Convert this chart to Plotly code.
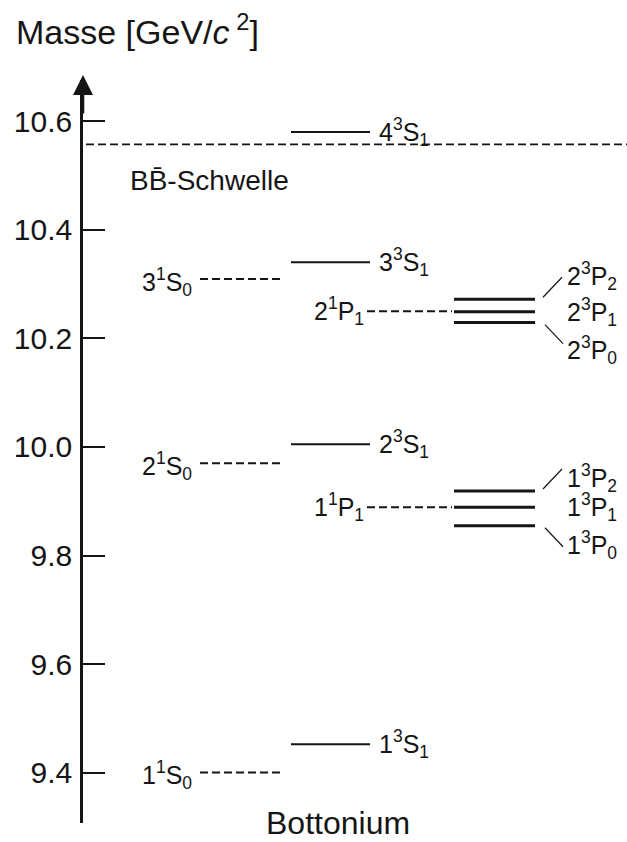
import plotly.graph_objects as go

# ---------------- data (masses in GeV/c^2) ----------------
tick_vals = [9.4, 9.6, 9.8, 10.0, 10.2, 10.4, 10.6]
tick_text = ["9.4", "9.6", "9.8", "10.0", "10.2", "10.4", "10.6"]

s_triplet_names = ["1<sup>3</sup>S<sub>1</sub>", "2<sup>3</sup>S<sub>1</sub>",
                   "3<sup>3</sup>S<sub>1</sub>", "4<sup>3</sup>S<sub>1</sub>"]
s_triplet_mass = [9.453, 10.005, 10.340, 10.580]

s_singlet_names = ["1<sup>1</sup>S<sub>0</sub>", "2<sup>1</sup>S<sub>0</sub>",
                   "3<sup>1</sup>S<sub>0</sub>"]
s_singlet_mass = [9.401, 9.970, 10.309]

p_singlet_names = ["1<sup>1</sup>P<sub>1</sub>", "2<sup>1</sup>P<sub>1</sub>"]
p_singlet_mass = [9.889, 10.250]

p_triplet_names = ["1<sup>3</sup>P<sub>0</sub>", "1<sup>3</sup>P<sub>1</sub>", "1<sup>3</sup>P<sub>2</sub>",
                   "2<sup>3</sup>P<sub>0</sub>", "2<sup>3</sup>P<sub>1</sub>", "2<sup>3</sup>P<sub>2</sub>"]
p_triplet_mass = [9.855, 9.889, 9.919, 10.229, 10.249, 10.272]
p_triplet_j = [0, 1, 2, 0, 1, 2]

threshold_mass = 10.557
threshold_label = "BB\u0304-Schwelle"
y_title = "Masse [GeV/<i>c</i><sup> 2</sup>]"
x_title = "Bottonium"

# ---------------- layout / style ----------------
W, H = 627, 842
M_L, M_T, M_B = 83, 80, 19
PLOT_H = H - M_T - M_B
PLOT_W = W - M_L
Y_MIN, Y_MAX = 9.3079, 10.6755
GEV_PER_PX = (Y_MAX - Y_MIN) / PLOT_H
FONT = "Liberation Sans, Arial, Helvetica, sans-serif"
INK = "#151515"

# horizontal column extents (x axis in page-pixel-like units)
COL_S_SINGLET = (200, 283)
COL_S_TRIPLET = (291, 370)
COL_P_SINGLET = (367, 452)
COL_P_TRIPLET = (454, 535)
THRESH_X = (86, 627)
DASH = "8px,4px"


def segs(masses, x0, x1):
    xs, ys = [], []
    for m in masses:
        xs += [x0, x1, None]
        ys += [m, m, None]
    return xs, ys


def px_y(page_px):
    # page pixel (from top) -> paper fraction of plot area
    return (H - M_B - page_px) / PLOT_H


fig = go.Figure()

def add_lines(xs, ys, width, dash="solid"):
    fig.add_trace(go.Scatter(x=xs, y=ys, mode="lines", showlegend=False,
                             hoverinfo="skip", cliponaxis=False,
                             line=dict(color=INK, width=width, dash=dash)))

add_lines(*segs(s_triplet_mass, *COL_S_TRIPLET), 2)
add_lines(*segs(s_singlet_mass, *COL_S_SINGLET), 2, DASH)
add_lines(*segs(p_singlet_mass, *COL_P_SINGLET), 2, DASH)
add_lines(*segs(p_triplet_mass, *COL_P_TRIPLET), 3)
add_lines(*segs([threshold_mass], *THRESH_X), 1.8, DASH)

# connectors from J=2 / J=0 lines to their labels
cx, cy = [], []
for m, j in zip(p_triplet_mass, p_triplet_j):
    if j == 2:
        cx += [543, 562, None]
        cy += [m + 2 * GEV_PER_PX, m + 22 * GEV_PER_PX, None]
    elif j == 0:
        cx += [545, 563, None]
        cy += [m - 2 * GEV_PER_PX, m - 21 * GEV_PER_PX, None]
add_lines(cx, cy, 1.2)

ann = []
LBL = dict(size=25, color=INK, family=FONT)

for n, m in zip(s_triplet_names, s_triplet_mass):
    ann.append(dict(x=377, y=m, xref="x", yref="y", text=n, showarrow=False,
                    xanchor="left", yanchor="middle", font=LBL))
for n, m in zip(s_singlet_names, s_singlet_mass):
    ann.append(dict(x=194, y=m, xref="x", yref="y", text=n, showarrow=False,
                    xanchor="right", yanchor="middle", yshift=-3, font=LBL))
for n, m in zip(p_singlet_names, p_singlet_mass):
    ann.append(dict(x=366, y=m, xref="x", yref="y", text=n, showarrow=False,
                    xanchor="right", yanchor="middle", font=LBL))
for i, (n, m, j) in enumerate(zip(p_triplet_names, p_triplet_mass, p_triplet_j)):
    low = i < 3
    shift = {2: 13 if low else 23, 1: 0, 0: -19 if low else -27}[j]
    ann.append(dict(x=565, y=m, xref="x", yref="y", text=n, showarrow=False,
                    xanchor="left", yanchor="middle", yshift=shift, font=LBL))

ann.append(dict(x=128, y=threshold_mass, xref="x", yref="y", text=threshold_label,
                showarrow=False, xanchor="left", yanchor="middle", yshift=-36,
                font=dict(size=28, color=INK, family=FONT)))

ann.append(dict(x=(14 - M_L) / PLOT_W, y=px_y(30), xref="paper", yref="paper",
                text=y_title, showarrow=False, xanchor="left", yanchor="middle",
                font=dict(size=34, color=INK, family=FONT)))
ann.append(dict(x=(338 - M_L) / PLOT_W, y=px_y(823), xref="paper", yref="paper",
                text=x_title, showarrow=False, xanchor="center", yanchor="middle",
                font=dict(size=32, color=INK, family=FONT)))

# arrow head on the mass axis
ann.append(dict(x=0, y=px_y(75), xref="paper", yref="paper", text="",
                showarrow=True, ax=0, ay=40, arrowhead=2, arrowsize=1.6,
                arrowwidth=2.5, arrowcolor=INK))

fig.update_layout(
    width=W, height=H,
    margin=dict(l=M_L, r=0, t=M_T, b=M_B, pad=0, autoexpand=False),
    paper_bgcolor="white", plot_bgcolor="white",
    xaxis=dict(range=[M_L, W], visible=False, fixedrange=True, automargin=False),
    yaxis=dict(range=[Y_MIN, Y_MAX], showline=True, linecolor=INK, linewidth=2.5,
               ticks="inside", ticklen=22, tickwidth=2, tickcolor=INK,
               tickvals=tick_vals, ticktext=tick_text,
               tickfont=dict(size=30, color=INK, family=FONT),
               ticklabelstandoff=2, automargin=False,
               showgrid=False, zeroline=False, fixedrange=True),
    annotations=ann,
    showlegend=False,
)

fig.write_html(
    "out.html",
    config={"displayModeBar": False},
    post_script="document.body.style.margin='0';document.body.style.overflow='hidden';",
)
